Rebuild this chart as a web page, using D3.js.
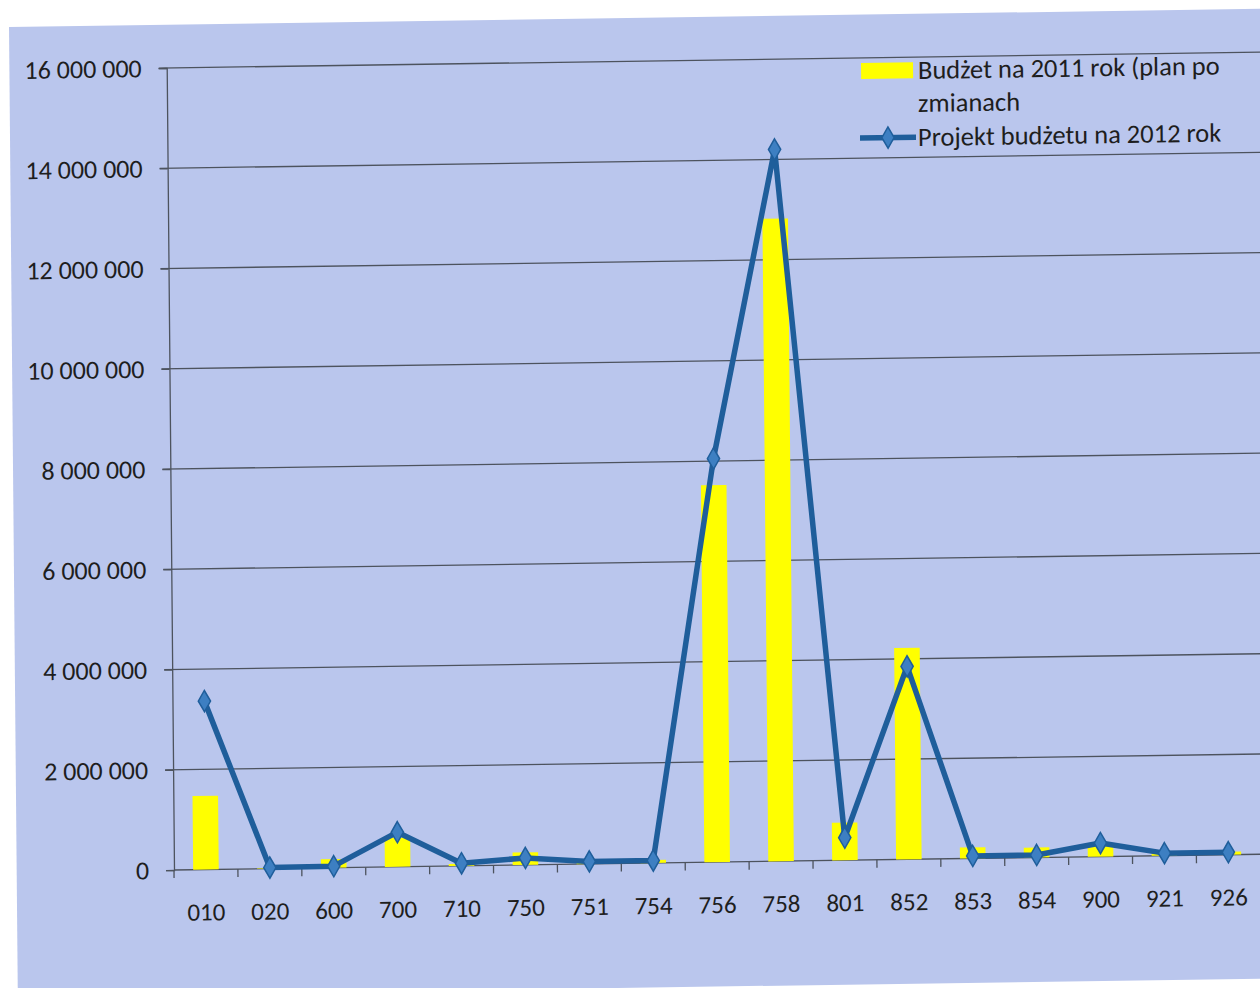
<!DOCTYPE html>
<html>
<head>
<meta charset="utf-8">
<script src="https://cdn.jsdelivr.net/npm/d3@7"></script>
<style>
  html, body { margin: 0; padding: 0; background: #ffffff; }
  svg { display: block; }
  text { font-family: Carlito, Calibri, Lato, "Open Sans", sans-serif; fill: #1e1e1e; }
</style>
</head>
<body>
<svg id="chart" width="1260" height="988"></svg>
<script>
// ---- data ----
const categories = ["010","020","600","700","710","750","751","754","756","758","801","852","853","854","900","921","926"];
const budget2011 = [1470000, 10000, 170000, 580000, 40000, 250000, 60000, 60000, 7520000, 12820000, 750000, 4220000, 220000, 200000, 220000, 60000, 60000];
const project2012 = [3360000, 20000, 30000, 690000, 50000, 140000, 50000, 50000, 8050000, 14200000, 450000, 3850000, 50000, 50000, 270000, 50000, 50000];
const yTicks = [0, 2000000, 4000000, 6000000, 8000000, 10000000, 12000000, 14000000, 16000000];
const legendLabels = ["Budżet na 2011 rok (plan po", "zmianach", "Projekt budżetu na 2012 rok"];

// ---- scanned-page skew ----
const PX = 174, PY = 870, SX = 0.0091, SY = -0.0145;
function toLocal(sx, sy) {
  const det = 1 - SX * SY;
  const dx = sx - PX, dy = sy - PY;
  return [PX + (dx - SX * dy) / det, PY + (-SY * dx + dy) / det];
}

const svg = d3.select("#chart");
const g = svg.append("g")
  .attr("transform", `translate(${PX},${PY}) matrix(1,${SY},${SX},1,0,0) translate(${-PX},${-PY})`);

// background panel
const tl = toLocal(9, 27), br = toLocal(1100, 981);
g.append("rect")
  .attr("x", tl[0]).attr("y", tl[1])
  .attr("width", 1400).attr("height", br[1] - tl[1])
  .attr("fill", "#bac6ed");

// scales
const x = d3.scaleBand().domain(categories).range([174, 174 + 17 * 63.9]).padding(0);
const y = d3.scaleLinear().domain([0, 16000000]).range([870, 68]);
const fmt = d3.formatLocale({ decimal: ",", thousands: "\u00a0", grouping: [3], currency: ["", ""] }).format(",d");

// gridlines
g.append("g").selectAll("line").data(yTicks.filter(d => d > 0)).join("line")
  .attr("x1", 166).attr("x2", 1300)
  .attr("y1", d => y(d)).attr("y2", d => y(d))
  .attr("stroke", "#4d535e").attr("stroke-width", 1.3);

// y axis
const yAxis = g.append("g").attr("transform", "translate(174,0)")
  .call(d3.axisLeft(y).tickValues(yTicks).tickFormat(fmt).tickSize(8).tickPadding(17));
yAxis.select(".domain").attr("stroke", "#4d535e").attr("stroke-width", 1.3);
yAxis.selectAll(".tick line").attr("stroke", "#4d535e").attr("stroke-width", 1.3);
yAxis.selectAll("text").attr("font-size", 26).attr("fill", "#1e1e1e")
  .attr("font-family", 'Carlito, Calibri, Lato, "Open Sans", sans-serif');

// x axis
const xAxisG = g.append("g").attr("transform", "translate(0,870)");
xAxisG.append("line").attr("x1", 174).attr("x2", 1300).attr("y1", 0).attr("y2", 0)
  .attr("stroke", "#4d535e").attr("stroke-width", 1.3);
xAxisG.selectAll("line.tk").data(categories.map((c, i) => i)).join("line")
  .attr("class", "tk")
  .attr("x1", i => x(categories[i])).attr("x2", i => x(categories[i]))
  .attr("y1", 0).attr("y2", 8)
  .attr("stroke", "#4d535e").attr("stroke-width", 1.3);
xAxisG.selectAll("text").data(categories).join("text")
  .attr("x", d => x(d) + x.bandwidth() / 2)
  .attr("y", 51)
  .attr("text-anchor", "middle")
  .attr("font-size", 25)
  .text(d => d);

// bars
const barW = x.bandwidth() * 0.4;
g.append("g").selectAll("rect").data(categories).join("rect")
  .attr("x", d => x(d) + x.bandwidth() / 2 - barW / 2)
  .attr("y", (d, i) => y(budget2011[i]))
  .attr("width", barW)
  .attr("height", (d, i) => y(0) - y(budget2011[i]))
  .attr("fill", "#ffff00");

// line
const lineColor = "#1f5e9b";
const markerColor = "#3d7fc2";
const line = d3.line().x((d, i) => x(categories[i]) + x.bandwidth() / 2).y(d => y(d));
g.append("path").datum(project2012)
  .attr("d", line)
  .attr("fill", "none")
  .attr("stroke", lineColor)
  .attr("stroke-width", 5.5)
  .attr("stroke-linejoin", "round");

const diamond = d3.symbol().type(d3.symbolDiamond).size(130);
g.append("g").selectAll("path").data(project2012).join("path")
  .attr("d", diamond)
  .attr("transform", (d, i) => `translate(${x(categories[i]) + x.bandwidth() / 2},${y(d)})`)
  .attr("fill", markerColor)
  .attr("stroke", lineColor)
  .attr("stroke-width", 1.5);

// legend
const lg = g.append("g");
const sw1 = toLocal(861, 63);
lg.append("rect").attr("x", sw1[0]).attr("y", sw1[1]).attr("width", 52).attr("height", 16).attr("fill", "#ffff00");
const t1 = toLocal(918, 79), t2 = toLocal(918, 112), t3 = toLocal(918, 146);
[t1, t2, t3].forEach((p, i) => {
  lg.append("text").attr("x", p[0]).attr("y", p[1]).attr("font-size", 26.5).text(legendLabels[i]);
});
const l3 = toLocal(860, 138);
lg.append("line").attr("x1", l3[0]).attr("x2", l3[0] + 56).attr("y1", l3[1]).attr("y2", l3[1])
  .attr("stroke", lineColor).attr("stroke-width", 5.5);
lg.append("path").attr("d", diamond)
  .attr("transform", `translate(${l3[0] + 28},${l3[1]})`)
  .attr("fill", markerColor).attr("stroke", lineColor).attr("stroke-width", 1.5);
</script>
</body>
</html>
